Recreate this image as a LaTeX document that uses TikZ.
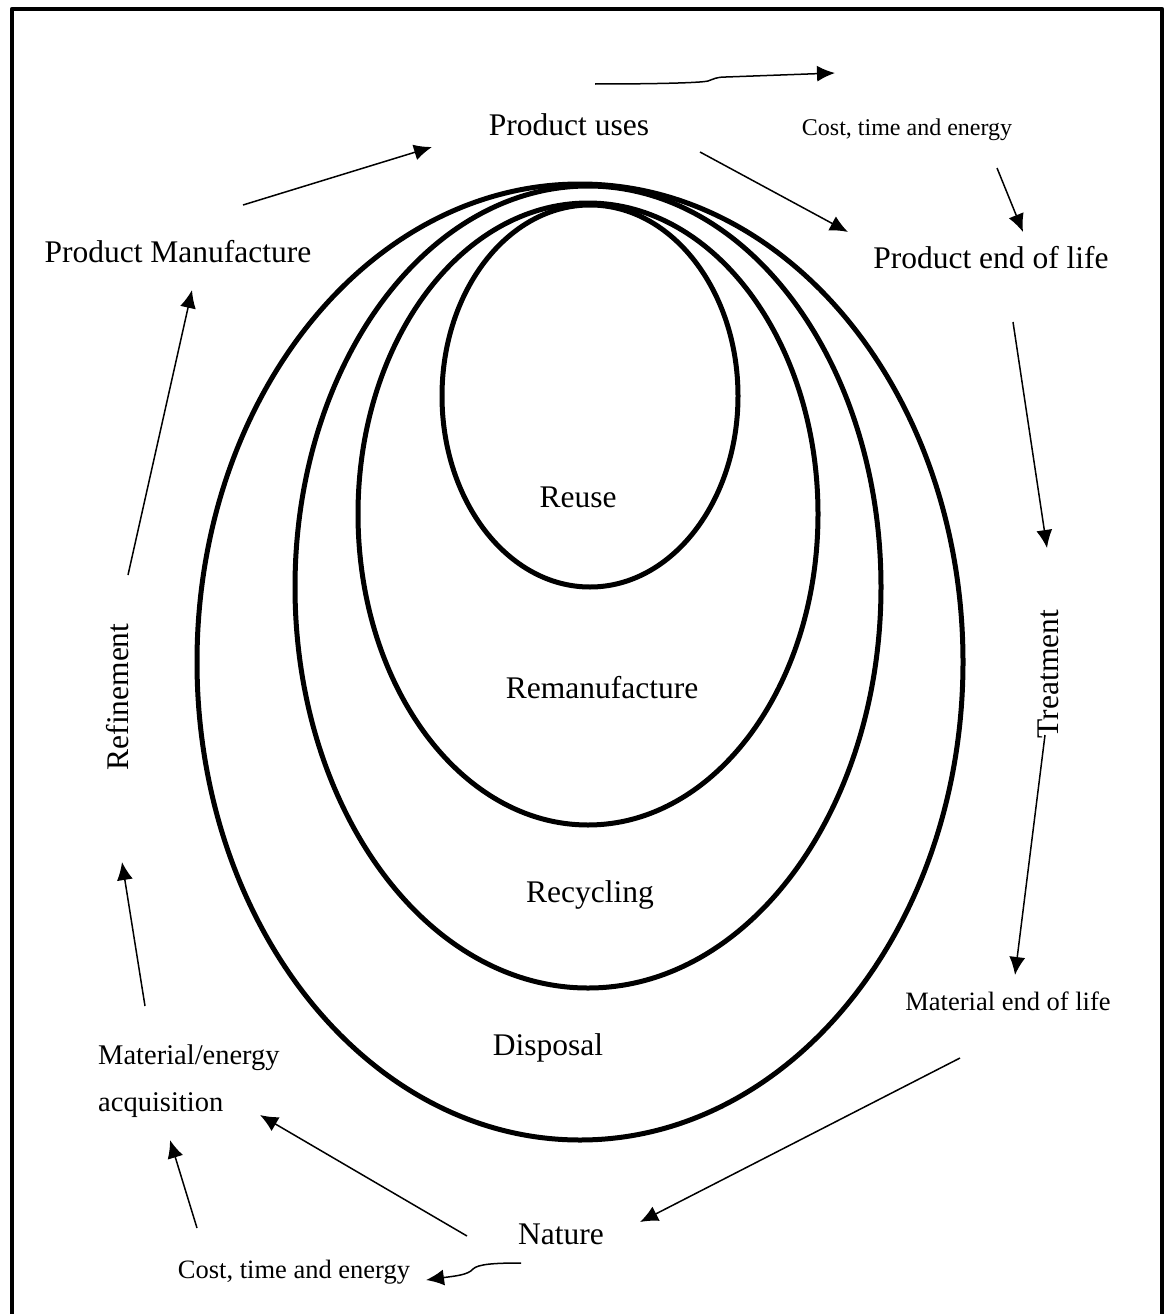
\documentclass[tikz,border=0pt]{standalone}
\usepackage{fontspec}
\setmainfont{Liberation Serif}
\usetikzlibrary{arrows.meta}
\begin{document}
\begin{tikzpicture}[x=1pt,y=-1pt,
  big/.style={font=\fontsize{31.5}{38}\selectfont, inner sep=0pt, anchor=base},
  mid/.style={font=\fontsize{28.5}{47}\selectfont, inner sep=0pt, anchor=base},
  small/.style={font=\fontsize{24}{29}\selectfont, inner sep=0pt, anchor=base},
  smallb/.style={font=\fontsize{26.5}{32}\selectfont, inner sep=0pt, anchor=base},
  ring/.style={line width=5pt},
  flow/.style={line width=1.5pt, -{Latex[length=18pt,width=16pt]}}
]
\useasboundingbox (0,0) rectangle (1165,1314);
\draw[line width=4.8pt, line join=round] (12,1340) -- (12,9) -- (1162,9) -- (1162,1340);

% rings
\draw[ring] (580,662) ellipse [x radius=383pt, y radius=478pt];
\draw[ring] (588,587) ellipse [x radius=293pt, y radius=401pt];
\draw[ring] (588,514) ellipse [x radius=230pt, y radius=311pt];
\draw[ring] (590,396) ellipse [x radius=148pt, y radius=191pt];

% labels
\node[big] (uses) at (569,135) {Product uses};
\node[small] (cost1) at (907,135) {Cost, time and energy};
\node[big] (manu) at (178,262) {Product Manufacture};
\node[big] (eol) at (991,268) {Product end of life};
\node[big] (reuse) at (578,507) {Reuse};
\node[big] (reman) at (602,698) {Remanufacture};
\node[big] (recyc) at (590,902) {Recycling};
\node[big] (disp) at (548,1055) {Disposal};
\node[smallb] (meol) at (1008,1010) {Material end of life};
\node[mid, anchor=base west, align=left] (acq) at (98,1111) {Material/energy\\acquisition};
\node[big] (nature) at (561,1244) {Nature};
\node[smallb] (cost2) at (294,1278) {Cost, time and energy};
\node[font=\fontsize{31.5}{38}\selectfont, inner sep=0pt, rotate=90] (refine) at (118,697) {Refinement};
\node[font=\fontsize{31.5}{38}\selectfont, inner sep=0pt, rotate=90] (treat) at (1048,674) {Treatment};

% connector end points
\coordinate (a1s) at (243,205); \coordinate (a1e) at (432,147);
\coordinate (a2s) at (700,152); \coordinate (a2e) at (848,232);
\coordinate (a3s) at (595,84);  \coordinate (a3e) at (835,73);
\coordinate (a4s) at (997,168); \coordinate (a4e) at (1023,232);
\coordinate (a5s) at (1013,322); \coordinate (a5e) at (1047,548);
\coordinate (a6s) at (1045,735); \coordinate (a6e) at (1015,975);
\coordinate (a7s) at (960,1058); \coordinate (a7e) at (640,1222);
\coordinate (a8s) at (467,1236); \coordinate (a8e) at (260,1115);
\coordinate (a9s) at (197,1228); \coordinate (a9e) at (170,1140);
\coordinate (a10s) at (521,1263); \coordinate (a10e) at (426,1280);
\coordinate (a11s) at (145,1006); \coordinate (a11e) at (122,862);
\coordinate (a12s) at (128,575); \coordinate (a12e) at (192,290);

% connectors
\draw[flow] (a1s) -- (a1e);
\draw[flow] (a2s) -- (a2e);
\draw[flow] (a3s) .. controls (650,84) and (700,83) .. (708,81)
  .. controls (714,79) and (716,77) .. (726,77) -- (a3e);
\draw[flow] (a4s) -- (a4e);
\draw[flow] (a5s) -- (a5e);
\draw[flow] (a6s) -- (a6e);
\draw[flow] (a7s) -- (a7e);
\draw[flow] (a8s) -- (a8e);
\draw[flow] (a9s) -- (a9e);
\draw[flow] (a10s) .. controls (495,1263) and (478,1264) .. (473,1269)
  .. controls (468,1275) and (455,1276) .. (a10e);
\draw[flow] (a11s) -- (a11e);
\draw[flow] (a12s) -- (a12e);
\end{tikzpicture}
\end{document}
